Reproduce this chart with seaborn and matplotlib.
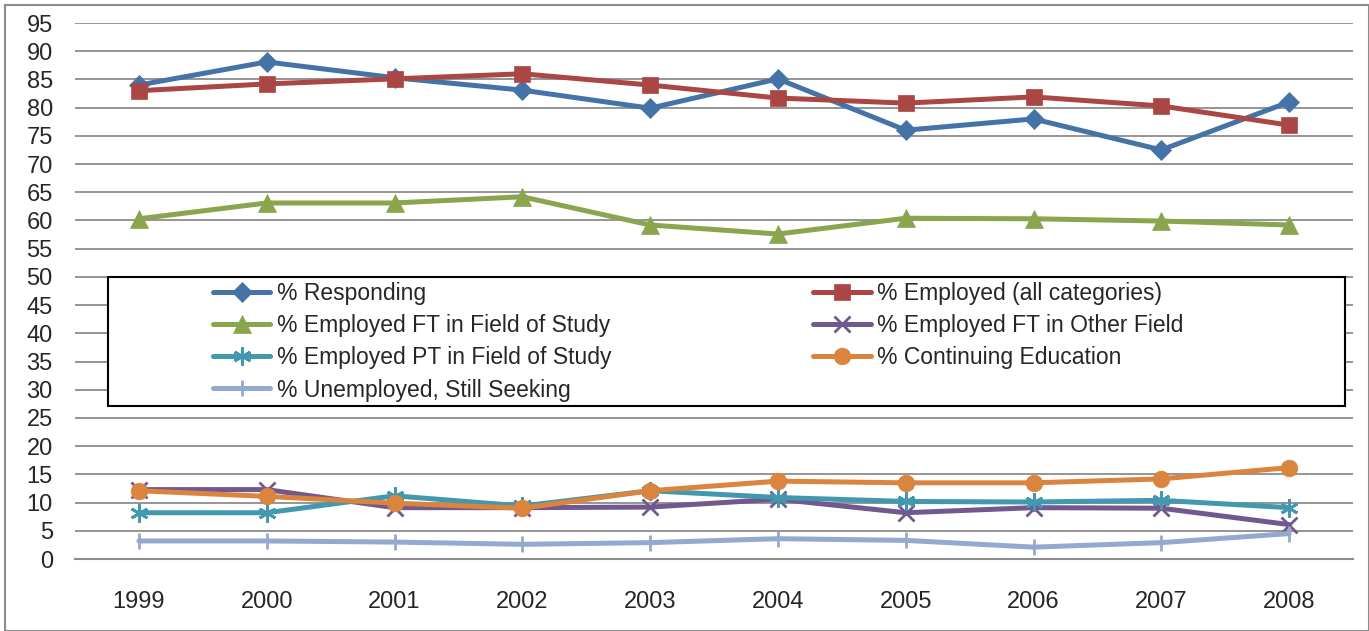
import matplotlib
matplotlib.use("Agg")
import matplotlib.pyplot as plt
from matplotlib.patches import Rectangle
import pandas as pd
import seaborn as sns

sns.set_style("white")
plt.rcParams["font.family"] = ["Liberation Sans", "DejaVu Sans"]

years = ["1999", "2000", "2001", "2002", "2003", "2004", "2005", "2006", "2007", "2008"]

responding = [84.0, 88.1, 85.3, 83.1, 79.9, 85.1, 76.0, 78.0, 72.5, 81.0]
employed_all = [83.0, 84.2, 85.1, 86.0, 84.0, 81.7, 80.8, 81.9, 80.3, 76.9]
ft_field = [60.3, 63.1, 63.1, 64.2, 59.2, 57.6, 60.4, 60.3, 59.9, 59.2]
ft_other = [12.3, 12.3, 9.1, 9.1, 9.2, 10.6, 8.2, 9.1, 9.0, 6.1]
pt_field = [8.2, 8.2, 11.2, 9.4, 12.1, 10.9, 10.2, 10.1, 10.4, 9.1]
cont_edu = [12.1, 11.1, 9.9, 9.0, 12.1, 13.8, 13.5, 13.5, 14.2, 16.2]
unemployed = [3.2, 3.2, 3.0, 2.6, 2.9, 3.6, 3.3, 2.1, 2.9, 4.5]

series = [
    ("% Responding", responding, "#4572A7", "D", 10.5),
    ("% Employed (all categories)", employed_all, "#AA4643", "s", 11.5),
    ("% Employed FT in Field of Study", ft_field, "#89A54E", "^", 13),
    ("% Employed FT in Other Field", ft_other, "#71588F", "x", 11),
    ("% Employed PT in Field of Study", pt_field, "#4198AF", (6, 2, 0), 13),
    ("% Continuing Education", cont_edu, "#DB843D", "o", 12),
    ("% Unemployed, Still Seeking", unemployed, "#93A9CF", "|", 12),
]

W, H = 1369, 631
fig = plt.figure(figsize=(W / 100, H / 100), dpi=100)
ax = fig.add_axes([75 / W, 1 - 559 / H, (1353 - 75) / W, (559 - 23) / H])

handles = {}
for name, vals, color, marker, ms in series:
    df = pd.DataFrame({"Year": years, "Value": vals})
    sns.lineplot(data=df, x="Year", y="Value", ax=ax, color=color, linewidth=3.6,
                 marker=marker, markersize=ms, markeredgecolor=color,
                 markeredgewidth=2 if marker in ("x", "|", (6, 2, 0)) else 0.5,
                 label=name)
    handles[name] = ax.get_lines()[-1]

ax.set_xlim(-0.5, len(years) - 0.5)
ax.set_ylim(0, 95)
ax.set_yticks(range(0, 96, 5))
ax.grid(axis="y", color="#8c8c8c", linewidth=1.3)
ax.set_axisbelow(True)
for side in ["top", "right", "left"]:
    ax.spines[side].set_visible(False)
ax.spines["bottom"].set_color("#8c8c8c")
ax.spines["bottom"].set_linewidth(1.5)
ax.tick_params(axis="both", length=0, labelsize=17)
ax.tick_params(axis="x", pad=23)
ax.tick_params(axis="y", pad=16)
ax.set_xlabel("")
ax.set_ylabel("")

# legend box drawn separately, entries are row-major in the original
def px_to_ax(x, y):
    return (x - 75) / 1278, (559 - y) / 536

bx0, by0 = px_to_ax(108, 406)
bx1, by1 = px_to_ax(1345, 277)
ax.add_patch(Rectangle((bx0, by0), bx1 - bx0, by1 - by0, transform=ax.transAxes,
                       facecolor="white", edgecolor="black", linewidth=1.5, zorder=5))

order = [0, 2, 4, 6, 1, 3, 5]
names = [series[i][0] for i in order]
leg = ax.legend([handles[n] for n in names], names, ncol=2, loc="upper left",
                bbox_to_anchor=px_to_ax(213, 282), fontsize=16.5, frameon=False,
                handlelength=2.5, handletextpad=0.3, labelspacing=0.4,
                borderpad=0, columnspacing=8.8, borderaxespad=0)
leg.set_zorder(6)

fig.patches.append(Rectangle((5 / W, 0), 1 - 5 / W, 1 - 5 / H, transform=fig.transFigure,
                             fill=False, edgecolor="#8c8c8c", linewidth=1.5))

fig.savefig("out.png", dpi=100)
